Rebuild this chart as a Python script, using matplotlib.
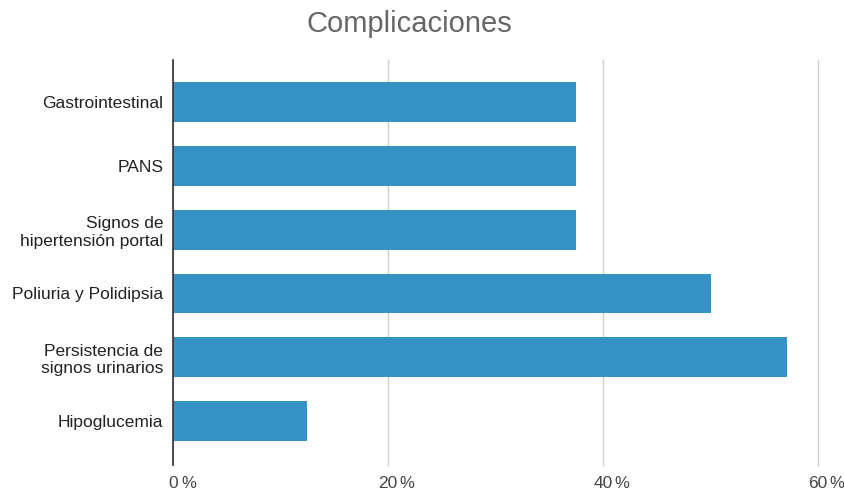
import matplotlib.pyplot as plt

categories = ['Gastrointestinal', 'PANS', 'Signos de\nhipertensión portal',
              'Poliuria y Polidipsia', 'Persistencia de\nsignos urinarios', 'Hipoglucemia']
values = [37.5, 37.5, 37.5, 50.0, 57.1, 12.5]
ticks = [0, 20, 40, 60]

plt.rcParams['font.family'] = ['Liberation Sans', 'DejaVu Sans']

fig = plt.figure(figsize=(8.44, 4.92), dpi=100)
ax = fig.add_axes([173/844, 1 - 465/492, (818 - 173)/844, (465 - 60)/492])

ax.barh(range(len(values)), values, height=0.625, color='#3592c4', zorder=2)
ax.set_xlim(0, 60)
ax.set_ylim(5.69, -0.66)
ax.set_yticks(range(len(categories)))
ax.set_yticklabels(categories, fontsize=12.5, color='#222222', linespacing=1.2)
ax.set_xticks(ticks)
ax.set_xticklabels([str(t) for t in ticks], fontsize=12.5, color='#444444')
ax.tick_params(axis='y', length=0, pad=7)
ax.tick_params(axis='x', length=0, pad=8)
ax.grid(axis='x', color='#cccccc', linewidth=1, zorder=0)
for gl in ax.get_xgridlines():
    gl.set_clip_on(False)

# percent sign sits a little lower, right of each number
for t in ticks:
    ax.annotate('%', xy=(t, 0), xycoords=('data', 'axes fraction'),
                xytext=(len(str(t)) * 2.7 + 3, -13), textcoords='offset points',
                ha='left', va='center', fontsize=12, color='#444444')

for s in ['top', 'right', 'bottom']:
    ax.spines[s].set_visible(False)
ax.spines['left'].set_color('#333333')
ax.spines['left'].set_linewidth(1.2)
ax.spines['left'].set_zorder(3)

fig.text(0.485, 1 - 24/492, 'Complicaciones', ha='center', va='center', fontsize=21, color='#666666')

fig.savefig('out.png', dpi=100)
